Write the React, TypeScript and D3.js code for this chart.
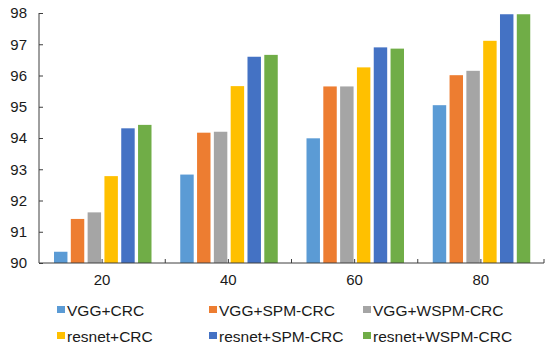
import React, { useEffect, useRef } from 'react';
import * as d3 from 'd3';

const categories = ['20', '40', '60', '80'];
const seriesNames = ['VGG+CRC', 'VGG+SPM-CRC', 'VGG+WSPM-CRC', 'resnet+CRC', 'resnet+SPM-CRC', 'resnet+WSPM-CRC'];
const vggCrc = [90.36, 92.83, 93.99, 95.05];
const vggSpm = [91.41, 94.17, 95.65, 96.01];
const vggWspm = [91.62, 94.2, 95.65, 96.15];
const resnetCrc = [92.78, 95.66, 96.26, 97.11];
const resnetSpm = [94.31, 96.6, 96.9, 97.96];
const resnetWspm = [94.42, 96.66, 96.86, 97.96];
const yTicks = [90, 91, 92, 93, 94, 95, 96, 97, 98];
const colors = ['#5b9bd5', '#ed7d31', '#a5a5a5', '#ffc000', '#4472c4', '#70ad47'];

const App = () => {
  const svgRef = useRef<SVGSVGElement>(null);

  useEffect(() => {
    const svg = d3.select(svgRef.current);
    svg.selectAll('*').remove();
    const allSeries = [vggCrc, vggSpm, vggWspm, resnetCrc, resnetSpm, resnetWspm];
    const font = 'Arial, "Liberation Sans", sans-serif';
    const axisColor = '#3f3f3f';

    const x = d3.scaleBand().domain(categories).range([39, 544]).padding(0);
    const inner = d3.scaleBand<number>()
      .domain(d3.range(seriesNames.length))
      .range([15, 112.5])
      .paddingInner(0.2)
      .paddingOuter(0);
    const y = d3.scaleLinear().domain([90, 98]).range([263, 13]);

    // bars
    const groups = svg.append('g').selectAll('g').data(categories).join('g')
      .attr('transform', (c) => `translate(${x(c)},0)`);
    groups.selectAll('rect')
      .data((c, ci) => allSeries.map((s, si) => ({ si, v: s[ci] })))
      .join('rect')
      .attr('x', (d) => inner(d.si)!)
      .attr('width', inner.bandwidth())
      .attr('y', (d) => y(d.v))
      .attr('height', (d) => y(90) - y(d.v))
      .attr('fill', (d) => colors[d.si]);

    // y axis
    const yAxis = d3.axisLeft(y).tickValues(yTicks).tickSize(-4).tickPadding(12).tickFormat(d3.format('d'));
    const gy = svg.append('g').attr('transform', 'translate(39,0)').call(yAxis);
    gy.select('.domain').attr('stroke', axisColor).attr('d', `M0,${y(98)}V${y(90)}`);
    gy.selectAll('line').attr('stroke', axisColor);
    gy.selectAll('text').attr('font-family', font).attr('font-size', 15).attr('fill', '#1a1a1a');

    // x axis
    const xAxis = d3.axisBottom(x).tickSize(0).tickPadding(11);
    const gx = svg.append('g').attr('transform', `translate(0,${y(90)})`).call(xAxis);
    gx.select('.domain').attr('stroke', axisColor).attr('d', `M39,0H544`);
    gx.selectAll('text').attr('font-family', font).attr('font-size', 15).attr('fill', '#1a1a1a');
    const tickXs: number[] = [];
    categories.forEach((c) => {
      tickXs.push(x(c)! + x.bandwidth() / 2, x(c)! + x.bandwidth());
    });
    gx.selectAll('.mark').data(tickXs).join('line')
      .attr('x1', (d) => d).attr('x2', (d) => d)
      .attr('y1', 0).attr('y2', -4)
      .attr('stroke', axisColor);

    // legend
    const colX = [57, 209, 363];
    const rowY = [310, 336];
    const leg = svg.append('g').selectAll('g').data(seriesNames).join('g')
      .attr('transform', (d, i) => `translate(${colX[i % 3]},${rowY[Math.floor(i / 3)]})`);
    leg.append('rect').attr('x', 0).attr('y', -4).attr('width', 8).attr('height', 7)
      .attr('fill', (d, i) => colors[i]);
    leg.append('text').attr('x', 10).attr('y', 5.5)
      .attr('font-family', font).attr('font-size', 15.5).attr('fill', '#1a1a1a')
      .text((d) => d);
  }, []);

  return (
    <svg ref={svgRef} width={550} height={350}
      style={{ position: 'absolute', left: 0, top: 0, background: '#fff' }} />
  );
};

export default App;
